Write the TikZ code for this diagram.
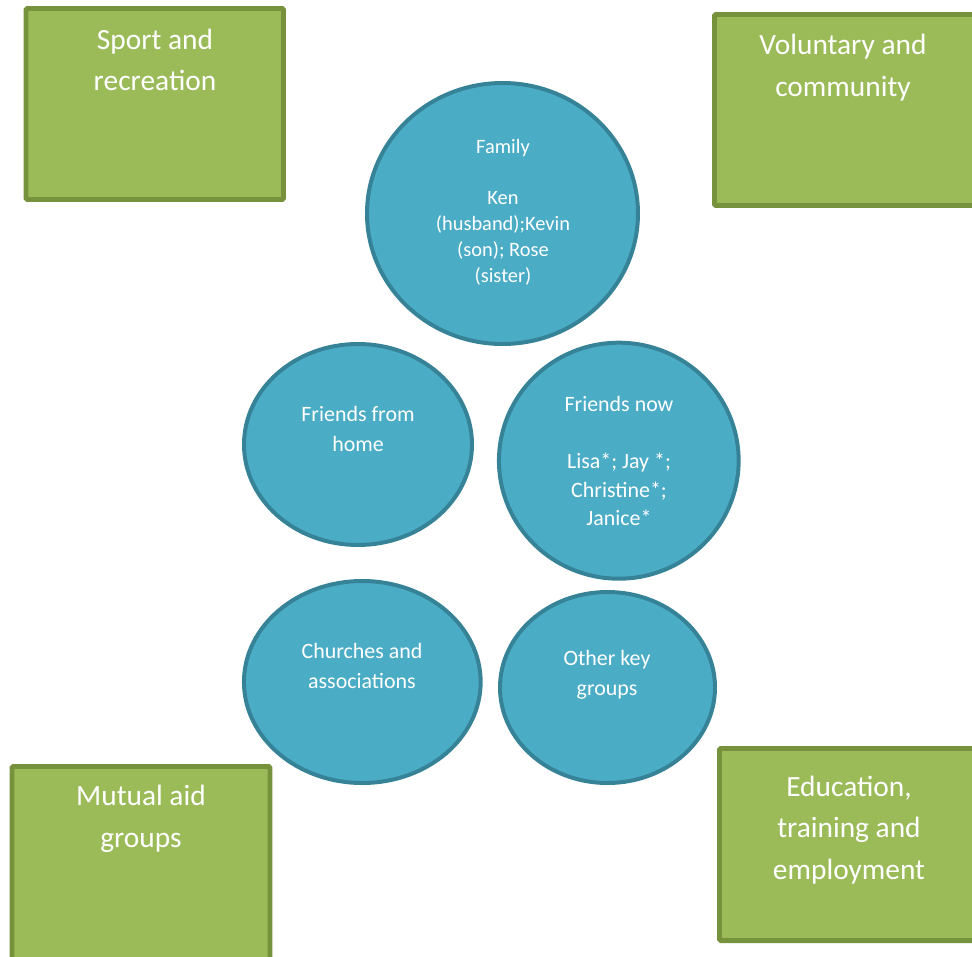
\documentclass[tikz,border=0pt]{standalone}
\usepackage{fontspec}
\setmainfont{Carlito}
\usetikzlibrary{shapes.geometric}

\definecolor{areafill}{HTML}{9BBB59}
\definecolor{areaedge}{HTML}{76923C}
\definecolor{circfill}{HTML}{4BACC6}
\definecolor{circedge}{HTML}{368297}

\tikzset{
  areabox/.style={draw=areaedge, fill=areafill, line width=5pt,
    rounded corners=1.5pt, inner sep=0pt},
  % text nodes are placed by the baseline of their last line
  areatext/.style={text=white, align=center, anchor=base, inner sep=0pt,
    font=\fontsize{29.5}{41.5}\selectfont},
  circ/.style={ellipse, draw=circedge, fill=circfill, line width=4pt,
    inner sep=0pt},
  circtext/.style={text=white, align=center, anchor=base, inner sep=0pt,
    font=\fontsize{22}{30}\selectfont},
}

\begin{document}
\begin{tikzpicture}[x=1bp, y=-1bp]
  \clip (0,0) rectangle (972,957);
  \useasboundingbox (0,0) rectangle (972,957);

  % life areas (green boxes)
  \node[areabox, minimum width=257.5bp, minimum height=191bp] (sport) at (154.75,104) {};
  \node[areabox, minimum width=265.5bp, minimum height=191bp] (vol) at (847.25,110) {};
  \node[areabox, minimum width=258bp, minimum height=200bp] (mutual) at (141,866.5) {};
  \node[areabox, minimum width=265.5bp, minimum height=192bp] (edu) at (852.25,844.5) {};

  \node[areatext] (sportlbl) at (155,90.5) {Sport and\\recreation};
  \node[areatext] (vollbl) at (843,96) {Voluntary and\\community};
  \node[areatext] (mutuallbl) at (141,847) {Mutual aid\\groups};
  \node[areatext] (edulbl) at (849,879) {Education,\\training and\\employment};

  % personal network (blue circles)
  \node[circ, minimum width=271bp, minimum height=261bp] (family) at (502.5,213.5) {};
  \node[circ, minimum width=228bp, minimum height=201bp] (home) at (358,444.5) {};
  \node[circ, minimum width=239.7bp, minimum height=236bp] (now) at (618.8,460.7) {};
  \node[circ, minimum width=236.7bp, minimum height=202bp] (church) at (362.3,682) {};
  \node[circ, minimum width=215bp, minimum height=191bp] (other) at (607.5,687.5) {};

  \node[circtext, font=\fontsize{20.5}{26}\selectfont] (familylbl) at (503,282.7)
    {Family\\[26bp]Ken\\(husband);Kevin\\(son); Rose\\(sister)};
  \node[circtext] (homelbl) at (358,451) {Friends from\\home};
  \node[circtext, font=\fontsize{22}{28.5}\selectfont] (nowlbl) at (619,525.5)
    {Friends now\\[28.5bp]Lisa*; Jay *;\\Christine*;\\Janice*};
  \node[circtext] (churchlbl) at (362,688) {Churches and\\associations};
  \node[circtext] (otherlbl) at (607,695) {Other key\\groups};
\end{tikzpicture}
\end{document}
